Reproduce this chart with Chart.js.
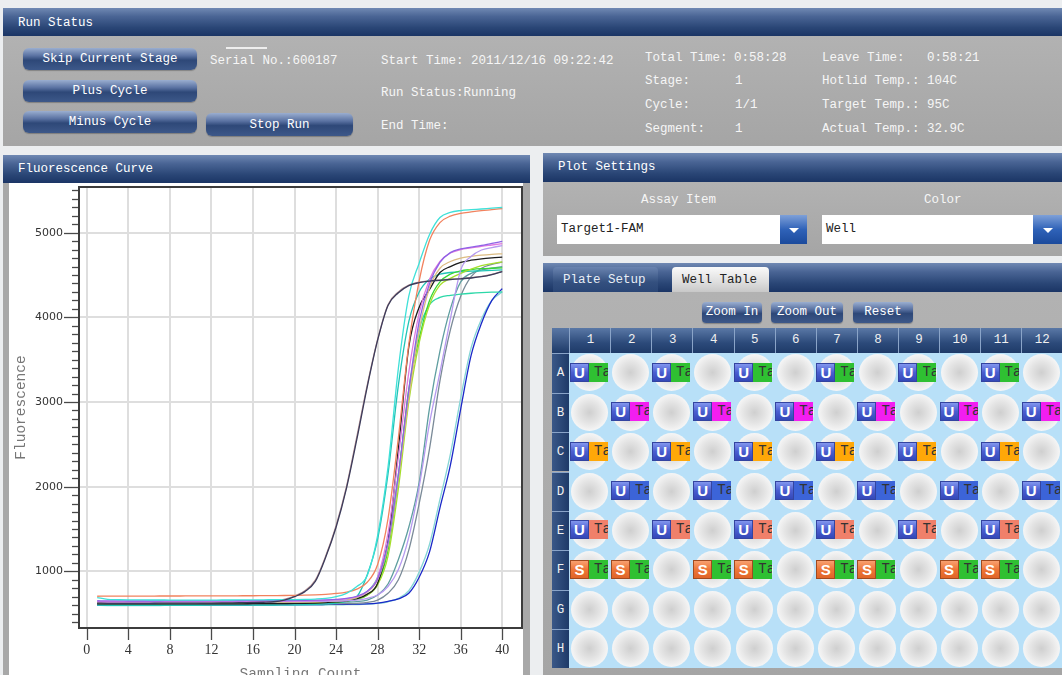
<!DOCTYPE html>
<html>
<head>
<meta charset="utf-8">
<script src="https://cdn.jsdelivr.net/npm/chart.js@4.4.0/dist/chart.umd.min.js"></script>
<style>
html, body { margin: 0; padding: 0; }
body {
    width: 1062px; height: 675px; overflow: hidden; position: relative;
    background: #eceef0;
    font-family: "Liberation Mono", monospace; font-size: 12.5px;
}
.hdr {
    position: absolute; box-sizing: border-box; padding-left: 15px;
    background: linear-gradient(#7089b3, #4a6595 30%, #2a4676 70%, #1b3565);
    color: #fff; line-height: 30px;
}
.gray { position: absolute; background: linear-gradient(#b2b2b2, #a5a5a5); }
.btn {
    position: absolute; color: #fff; text-align: center; border-radius: 6px;
    background: linear-gradient(#9aaed0, #5a72a2 35%, #2e4878 55%, #3d5889);
    box-shadow: 0 1px 1px rgba(0,0,0,.25);
}
.t { position: absolute; color: #f6f6f6; white-space: pre; line-height: 16px; }
.drop { position: absolute; background: #fff; color: #222; line-height: 29px; padding-left: 4px; box-sizing: border-box; }
.dbtn { position: absolute; background: linear-gradient(#7ea0d8, #2f62b8 50%, #1b4a9c); }
.dbtn:after {
    content: ""; position: absolute; left: 50%; top: 50%; margin: -2px 0 0 -5px;
    border-left: 5px solid transparent; border-right: 5px solid transparent; border-top: 5px solid #fff;
}
.colh {
    position: absolute; top: 328px; height: 25px; line-height: 25px; text-align: center; color: #f0f0f0;
    background: linear-gradient(#5a78a6, #2c4a7a 60%, #1e3a68); border-left: 1px solid #8aa4c8; box-sizing: border-box;
}
.rowh {
    position: absolute; left: 552px; width: 17px; text-align: center; color: #f0f0f0;
    background: linear-gradient(90deg, #3a5888, #1e3a68); border-top: 1px solid #8aa4c8; box-sizing: border-box;
}
.well { position: absolute; border-radius: 50%;
    background: radial-gradient(circle, #cfcfcf 0%, #e4e4e4 40%, #fafafa 78%, #eef6fc 100%); }
.lab { position: absolute; height: 19px; overflow: hidden; }
.lab .u {
    position: absolute; left: 0; top: 0; width: 19px; height: 19px; box-sizing: border-box;
    border: 1px solid #3444a0; color: #fff; font: bold 15px "Liberation Sans", sans-serif;
    text-align: center; line-height: 18px;
    background: linear-gradient(#8296ee, #4a5ed0 50%, #3448b8);
}
.lab .s { border-color: #a04a20; background: linear-gradient(#f8a070, #ee7638 50%, #e06428); }
.lab .ta { position: absolute; left: 24px; top: 0; line-height: 19px; color: #333; font-size: 14px; }
</style>
</head>
<body>

<!-- Run Status -->
<div class="hdr" style="left:3px;top:8px;width:1059px;height:28px;line-height:30px;">Run Status</div>
<div class="gray" style="left:3px;top:36px;width:1059px;height:110px;"></div>
<div class="btn" style="left:23px;top:48px;width:174px;height:22px;line-height:22px;">Skip Current Stage</div>
<div class="btn" style="left:23px;top:80px;width:174px;height:22px;line-height:22px;">Plus Cycle</div>
<div class="btn" style="left:23px;top:111px;width:174px;height:22px;line-height:22px;">Minus Cycle</div>
<div class="btn" style="left:206px;top:113px;width:147px;height:23px;line-height:24px;">Stop Run</div>
<div style="position:absolute;left:226px;top:47px;width:41px;height:2px;background:#eee;"></div>
<div class="t" style="left:210px;top:53px;">Serial No.:600187</div>
<div class="t" style="left:381px;top:53px;">Start Time: 2011/12/16 09:22:42</div>
<div class="t" style="left:381px;top:85px;">Run Status:Running</div>
<div class="t" style="left:381px;top:118px;">End Time:</div>
<div class="t" style="left:645px;top:50px;">Total Time:</div><div class="t" style="left:734px;top:50px;">0:58:28</div>
<div class="t" style="left:645px;top:73px;">Stage:</div><div class="t" style="left:735px;top:73px;">1</div>
<div class="t" style="left:645px;top:97px;">Cycle:</div><div class="t" style="left:735px;top:97px;">1/1</div>
<div class="t" style="left:645px;top:121px;">Segment:</div><div class="t" style="left:735px;top:121px;">1</div>
<div class="t" style="left:822px;top:50px;">Leave Time:</div><div class="t" style="left:927px;top:50px;">0:58:21</div>
<div class="t" style="left:822px;top:73px;">Hotlid Temp.:</div><div class="t" style="left:927px;top:73px;">104C</div>
<div class="t" style="left:822px;top:97px;">Target Temp.:</div><div class="t" style="left:927px;top:97px;">95C</div>
<div class="t" style="left:822px;top:121px;">Actual Temp.:</div><div class="t" style="left:927px;top:121px;">32.9C</div>

<!-- Fluorescence Curve -->
<div class="hdr" style="left:3px;top:155px;width:527px;height:28px;line-height:28px;">Fluorescence Curve</div>
<div class="gray" style="left:3px;top:183px;width:527px;height:492px;background:#a8a8a8;"></div>
<div style="position:absolute;left:9px;top:183px;width:514px;height:492px;background:#fff;"></div>
<canvas id="fluoChart" width="514" height="510" style="position:absolute;left:9px;top:183px;"></canvas>

<!-- Plot Settings -->
<div class="hdr" style="left:543px;top:153px;width:519px;height:29px;line-height:29px;">Plot Settings</div>
<div class="gray" style="left:543px;top:182px;width:519px;height:74px;"></div>
<div class="t" style="left:641px;top:192px;">Assay Item</div>
<div class="t" style="left:924px;top:192px;">Color</div>
<div class="drop" style="left:557px;top:215px;width:223px;height:29px;">Target1-FAM</div>
<div class="dbtn" style="left:780px;top:215px;width:27px;height:29px;"></div>
<div class="drop" style="left:822px;top:215px;width:211px;height:29px;">Well</div>
<div class="dbtn" style="left:1033px;top:215px;width:29px;height:29px;"></div>

<!-- Plate -->
<div class="hdr" style="left:543px;top:263px;width:519px;height:29px;"></div>
<div style="position:absolute;left:553px;top:267px;width:105px;height:25px;line-height:27px;border-radius:4px 4px 0 0;
     background:linear-gradient(#6a84b0,#34507f 60%,#2a4676);color:#e8eef6;padding-left:10px;box-sizing:border-box;">Plate Setup</div>
<div style="position:absolute;left:672px;top:267px;width:97px;height:25px;line-height:27px;border-radius:4px 4px 0 0;
     background:linear-gradient(#fafafa,#dedede 60%,#c8c8c8);color:#222;padding-left:10px;box-sizing:border-box;">Well Table</div>
<div class="gray" style="left:543px;top:292px;width:519px;height:383px;"></div>
<div class="btn" style="left:702px;top:302px;width:60px;height:21px;line-height:21px;border-radius:4px;">Zoom In</div>
<div class="btn" style="left:771px;top:302px;width:72px;height:21px;line-height:21px;border-radius:4px;">Zoom Out</div>
<div class="btn" style="left:853px;top:302px;width:60px;height:21px;line-height:21px;border-radius:4px;">Reset</div>
<div style="position:absolute;left:552px;top:328px;width:18px;height:25px;background:linear-gradient(#5a78a6,#1e3a68);"></div>
<div id="plate" style="position:absolute;left:0;top:0;"></div>

<script>
// ---- Fluorescence data (cycle 1..40) ----
const cycles = [1, 2, 3, 4, 5, 6, 7, 8, 9, 10, 11, 12, 13, 14, 15, 16, 17, 18, 19, 20,
                21, 22, 23, 24, 25, 26, 27, 28, 29, 30, 31, 32, 33, 34, 35, 36, 37, 38, 39, 40];

const xTicks = [0, 4, 8, 12, 16, 20, 24, 28, 32, 36, 40];
const yTicks = [1000, 2000, 3000, 4000, 5000];

const turquoise = [690, 668, 664, 662, 662, 661, 661, 660, 660, 660, 660, 660, 661, 661, 662, 662, 663, 664, 665, 666,
                   668, 672, 680, 700, 740, 820, 950, 1420, 2230, 3400, 4250, 4640, 4980, 5180, 5240, 5262, 5272, 5280, 5290, 5298];
const coral = [705, 706, 706, 707, 707, 707, 708, 708, 708, 709, 709, 709, 710, 710, 711, 711, 712, 713, 714, 716,
               718, 722, 728, 738, 755, 790, 870, 1080, 1620, 2580, 3680, 4430, 4910, 5120, 5195, 5228, 5245, 5260, 5272, 5285];
const purple = [652, 650, 650, 649, 649, 649, 649, 650, 650, 650, 650, 651, 651, 652, 652, 653, 653, 654, 655, 656,
                657, 659, 662, 668, 680, 705, 765, 910, 1340, 2140, 3140, 3950, 4400, 4650, 4765, 4808, 4830, 4850, 4875, 4897];
const orchid = [642, 640, 640, 640, 640, 640, 641, 641, 641, 642, 642, 642, 643, 643, 644, 644, 645, 646, 647, 648,
                650, 652, 656, 662, 675, 700, 760, 930, 1450, 2350, 3350, 4050, 4450, 4660, 4760, 4800, 4820, 4840, 4855, 4870];
const lavender = [638, 636, 636, 636, 636, 636, 636, 637, 637, 637, 637, 638, 638, 638, 639, 639, 640, 640, 641, 642,
                  643, 644, 646, 648, 652, 660, 680, 720, 820, 1020, 1400, 2000, 2750, 3350, 3980, 4560, 4720, 4796, 4825, 4847];
const tan = [632, 630, 630, 630, 630, 630, 631, 631, 631, 631, 632, 632, 632, 633, 633, 634, 634, 635, 636, 637,
             638, 640, 643, 648, 660, 690, 755, 900, 1300, 2100, 3050, 3850, 4350, 4580, 4660, 4700, 4720, 4735, 4745, 4751];
const black = [615, 614, 614, 614, 614, 614, 614, 615, 615, 615, 615, 615, 616, 616, 616, 617, 617, 618, 619, 620,
               622, 625, 630, 638, 650, 675, 730, 860, 1350, 2450, 3650, 4120, 4330, 4530, 4600, 4650, 4675, 4692, 4703, 4711];
const yellowGreen = [625, 624, 624, 624, 624, 624, 624, 625, 625, 625, 625, 626, 626, 626, 627, 627, 628, 628, 629, 630,
                     631, 633, 636, 642, 652, 672, 720, 840, 1180, 1980, 3000, 3700, 4150, 4380, 4460, 4520, 4570, 4610, 4635, 4655];
const lime = [620, 619, 619, 619, 619, 619, 619, 620, 620, 620, 620, 620, 621, 621, 621, 622, 622, 623, 624, 625,
              626, 628, 632, 638, 648, 668, 718, 850, 1250, 2100, 3150, 3750, 4200, 4420, 4510, 4550, 4565, 4575, 4580, 4585];
const lightSeaGreen = [600, 598, 598, 598, 598, 598, 598, 599, 599, 599, 599, 600, 600, 600, 601, 601, 602, 602, 603, 604,
                       606, 609, 614, 624, 645, 700, 960, 1380, 2150, 3200, 3950, 4300, 4450, 4510, 4530, 4540, 4545, 4550, 4555, 4560];
const aquamarine = [628, 626, 626, 626, 626, 626, 626, 627, 627, 627, 627, 628, 628, 628, 629, 629, 630, 630, 631, 632,
                    634, 636, 640, 648, 660, 690, 760, 930, 1350, 2150, 3100, 3850, 4150, 4235, 4260, 4275, 4285, 4292, 4297, 4300];
const cadet = [622, 620, 620, 620, 620, 620, 620, 621, 621, 621, 621, 621, 622, 622, 622, 623, 623, 624, 624, 625,
               626, 627, 629, 632, 636, 642, 660, 720, 850, 1140, 1520, 2050, 2930, 3600, 4100, 4420, 4520, 4560, 4580, 4600];
const slate = [606, 604, 604, 604, 604, 604, 604, 605, 605, 605, 605, 605, 606, 606, 606, 607, 607, 608, 608, 609,
               610, 611, 612, 614, 617, 622, 632, 660, 740, 900, 1250, 1800, 2450, 3250, 3850, 4250, 4480, 4580, 4625, 4652];
const blue = [604, 602, 602, 602, 602, 602, 602, 603, 603, 603, 603, 603, 604, 604, 604, 605, 605, 605, 606, 606,
              607, 607, 608, 609, 610, 612, 615, 625, 645, 675, 740, 930, 1230, 1750, 2250, 2920, 3550, 3930, 4200, 4340];
const lightTeal = [598, 596, 596, 596, 596, 596, 596, 597, 597, 597, 597, 597, 598, 598, 598, 599, 599, 599, 600, 600,
                   601, 601, 602, 603, 605, 607, 611, 620, 640, 680, 770, 990, 1320, 1850, 2380, 3050, 3640, 3980, 4200, 4300];
const darkEarly = [624, 622, 622, 622, 622, 622, 623, 623, 623, 624, 624, 625, 626, 627, 629, 631, 634, 640, 660, 700,
                   760, 880, 1165, 1520, 1980, 2560, 3180, 3730, 4140, 4290, 4375, 4410, 4428, 4438, 4447, 4455, 4465, 4480, 4505, 4540];
const brownEarly = [632, 630, 630, 630, 630, 630, 631, 631, 631, 632, 632, 633, 634, 635, 637, 639, 642, 648, 668, 708,
                    770, 895, 1180, 1540, 2000, 2590, 3200, 3740, 4150, 4300, 4380, 4415, 4432, 4442, 4450, 4458, 4468, 4483, 4508, 4545];

// the first curve in this list is drawn on top
const curves = [
    { name: 'darkEarly', values: darkEarly, color: '#3c3c5c' },
    { name: 'turquoise', values: turquoise, color: '#3fe0d8' },
    { name: 'coral', values: coral, color: '#f2825e' },
    { name: 'purple', values: purple, color: '#8e62e6' },
    { name: 'orchid', values: orchid, color: '#e07ae0' },
    { name: 'lavender', values: lavender, color: '#b69af0' },
    { name: 'tan', values: tan, color: '#dcbc82' },
    { name: 'black', values: black, color: '#1c1c1c' },
    { name: 'yellowGreen', values: yellowGreen, color: '#a6de2c' },
    { name: 'lime', values: lime, color: '#36d636' },
    { name: 'lightSeaGreen', values: lightSeaGreen, color: '#22c4b6' },
    { name: 'aquamarine', values: aquamarine, color: '#2cd8a8' },
    { name: 'cadet', values: cadet, color: '#5f9ea0' },
    { name: 'slate', values: slate, color: '#7a8a98' },
    { name: 'blue', values: blue, color: '#1a28c8' },
    { name: 'lightTeal', values: lightTeal, color: '#86d6d6' },
    { name: 'brownEarly', values: brownEarly, color: '#b89494' }
];

// Y axis minor tick marks every 100
const Y_MINOR_STEP = 100;

const axisMarks = {
    id: 'axisMarks',
    afterDraw(chart) {
        const { ctx, chartArea: a, scales: { x, y } } = chart;
        ctx.save();
        ctx.strokeStyle = '#4a4a4a';
        ctx.lineWidth = 1.3;
        const first = Math.ceil(y.min / Y_MINOR_STEP) * Y_MINOR_STEP;
        for (let v = first; v <= y.max; v += Y_MINOR_STEP) {
            const py = Math.round(y.getPixelForValue(v)) + 0.5;
            const len = v % 1000 === 0 ? 15 : 7;
            ctx.beginPath();
            ctx.moveTo(a.left - len, py);
            ctx.lineTo(a.left, py);
            ctx.stroke();
        }
        xTicks.forEach(v => {
            const px = Math.round(x.getPixelForValue(v)) + 0.5;
            ctx.beginPath();
            ctx.moveTo(px, a.bottom);
            ctx.lineTo(px, a.bottom + 12);
            ctx.stroke();
        });
        ctx.lineWidth = 2;
        ctx.strokeStyle = '#3c3c3c';
        ctx.strokeRect(a.left, a.top, a.right - a.left, a.bottom - a.top);
        ctx.restore();
    }
};

const ctx = document.getElementById('fluoChart').getContext('2d');
new Chart(ctx, {
    type: 'line',
    data: {
        datasets: curves.map(c => ({
            label: c.name,
            data: cycles.map((cy, i) => ({ x: cy, y: c.values[i] })),
            borderColor: c.color,
            borderWidth: 1.3,
            pointRadius: 0,
            fill: false,
            cubicInterpolationMode: 'monotone'
        }))
    },
    options: {
        responsive: false,
        animation: false,
        layout: { padding: { top: 4, right: 1, left: 0, bottom: 0 } },
        plugins: { legend: { display: false }, tooltip: { enabled: false } },
        scales: {
            x: {
                type: 'linear',
                min: -0.75,
                max: 41.9,
                afterBuildTicks: s => { s.ticks = xTicks.map(v => ({ value: v })); },
                afterFit: s => { s.height = 65; s.paddingLeft = 0; s.paddingRight = 0; },
                grid: { color: '#dedede', lineWidth: 2, drawTicks: false },
                border: { display: false },
                ticks: {
                    padding: 14,
                    color: '#333',
                    maxRotation: 0,
                    autoSkip: false,
                    font: { family: 'Liberation Serif', size: 14 },
                    callback: v => String(v)
                },
                title: {
                    display: true,
                    text: 'Sampling Count',
                    color: '#777',
                    font: { family: 'Liberation Mono', size: 14.5 },
                    padding: { top: 0, bottom: 10 }
                }
            },
            y: {
                min: 330,
                max: 5540,
                afterBuildTicks: s => { s.ticks = yTicks.map(v => ({ value: v })); },
                afterFit: s => { s.width = 70; s.paddingTop = 0; s.paddingBottom = 0; },
                grid: { color: '#dedede', lineWidth: 2, drawTicks: false },
                border: { display: false },
                ticks: {
                    padding: 16,
                    color: '#333',
                    font: { family: 'DejaVu Sans', size: 11 },
                    callback: v => String(v)
                },
                title: {
                    display: true,
                    text: 'Fluorescence',
                    color: '#777',
                    font: { family: 'Liberation Mono', size: 14.5 },
                    padding: { top: 3, bottom: 0 }
                }
            }
        }
    },
    plugins: [axisMarks]
});

// ---- Plate layout (rows A..H, columns 1..12) ----
const rowNames = ['A', 'B', 'C', 'D', 'E', 'F', 'G', 'H'];
const colNames = ['1', '2', '3', '4', '5', '6', '7', '8', '9', '10', '11', '12'];
const plateRows = [
    'g.g.g.g.g.g.',
    '.m.m.m.m.m.m',
    'o.o.o.o.o.o.',
    '.b.b.b.b.b.b',
    'r.r.r.r.r.r.',
    'ss.ss.ss.ss.',
    '............',
    '............'
];
const tagColors = { g: '#2fc032', m: '#f21ef0', o: '#ffa808', b: '#3c64d8', r: '#f0806a', s: '#2fc032' };

const plate = document.getElementById('plate');
const GX = 569.3, GY = 353.3, CW = 41.06, RH = 39.4;
let html = '<div style="position:absolute;left:' + GX + 'px;top:' + GY + 'px;width:' + (1062 - GX) +
           'px;height:' + (RH * 8) + 'px;background:#b8e0f8;"></div>';
colNames.forEach((c, i) => {
    html += '<div class="colh" style="left:' + (GX + i * CW) + 'px;width:' + (CW + 0.5) + 'px;">' + c + '</div>';
});
rowNames.forEach((r, j) => {
    html += '<div class="rowh" style="top:' + (GY + j * RH) + 'px;height:' + RH + 'px;line-height:' + RH + 'px;">' + r + '</div>';
    for (let i = 0; i < 12; i++) {
        const cx = GX + i * CW, cy = GY + j * RH;
        html += '<div class="well" style="left:' + (cx + 2) + 'px;top:' + (cy + 1) + 'px;width:37px;height:37px;"></div>';
        const code = plateRows[j][i];
        if (code !== '.') {
            html += '<div class="lab" style="left:' + (cx + 0.7) + 'px;top:' + (cy + 9.5) + 'px;width:38px;background:' +
                    tagColors[code] + ';"><div class="u' + (code === 's' ? ' s' : '') + '">' + (code === 's' ? 'S' : 'U') +
                    '</div><div class="ta">Ta</div></div>';
        }
    }
});
plate.innerHTML = html;
</script>
</body>
</html>
